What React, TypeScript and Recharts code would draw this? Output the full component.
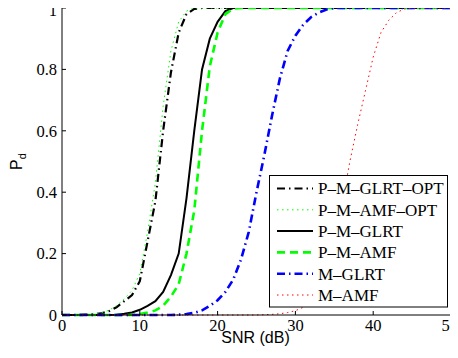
import React from "react";
import { LineChart, Line, XAxis, YAxis, Legend } from "recharts";

const snrDb = [0,1,2,3,4,5,6,7,8,9,10,11,12,13,14,15,16,17,18,19,20,21,22,23,24,25,26,27,28,29,30,31,32,33,34,35,36,37,38,39,40,41,42,43,44,45,46,47,48,49,50];

const pmGlrtOpt = [0,0,0,0.001,0.002,0.005,0.012,0.025,0.045,0.065,0.11,0.24,0.37,0.6,0.79,0.92,0.98,0.997,1,1,1,1,1,1,1,1,1,1,1,1,1,1,1,1,1,1,1,1,1,1,1,1,1,1,1,1,1,1,1,1,1];
const pmAmfOpt = [0,0,0,0.001,0.003,0.007,0.015,0.03,0.052,0.08,0.135,0.27,0.43,0.68,0.86,0.955,0.99,1,1,1,1,1,1,1,1,1,1,1,1,1,1,1,1,1,1,1,1,1,1,1,1,1,1,1,1,1,1,1,1,1,1];
const pmGlrt = [0,0,0,0,0,0,0,0.001,0.004,0.008,0.017,0.03,0.045,0.075,0.13,0.2,0.38,0.6,0.8,0.9,0.955,0.99,1,1,1,1,1,1,1,1,1,1,1,1,1,1,1,1,1,1,1,1,1,1,1,1,1,1,1,1,1];
const pmAmf = [0,0,0,0,0,0,0,0,0,0,0.003,0.008,0.015,0.03,0.06,0.1,0.2,0.34,0.6,0.81,0.92,0.98,0.998,1,1,1,1,1,1,1,1,1,1,1,1,1,1,1,1,1,1,1,1,1,1,1,1,1,1,1,1];
const mGlrt = [0,0,0,0,0,0,0,0,0,0,0,0,0,0,0,0.001,0.003,0.007,0.015,0.03,0.048,0.075,0.115,0.18,0.27,0.4,0.52,0.65,0.77,0.86,0.91,0.945,0.97,0.985,0.995,1,1,1,1,1,1,1,1,1,1,1,1,1,1,1,1];
const mAmf = [0,0,0,0,0,0,0,0,0,0,0,0,0,0,0,0,0,0,0,0,0,0,0,0,0,0,0.001,0.002,0.004,0.008,0.014,0.025,0.045,0.08,0.14,0.23,0.36,0.5,0.62,0.73,0.84,0.92,0.96,0.985,0.997,1,1,1,1,1,1];

const xTicks = [0, 10, 20, 30, 40, 50];
const yTicks = [0, 0.2, 0.4, 0.6, 0.8, 1];

const seriesNames = ["P–M–GLRT–OPT", "P–M–AMF–OPT", "P–M–GLRT", "P–M–AMF", "M–GLRT", "M–AMF"];
const seriesKeys = ["pmGlrtOpt", "pmAmfOpt", "pmGlrt", "pmAmf", "mGlrt", "mAmf"];
const seriesValues = [pmGlrtOpt, pmAmfOpt, pmGlrt, pmAmf, mGlrt, mAmf];
const seriesStyles = [
  { stroke: "#000000", width: 2.2, dash: "8 4 1.5 4" },
  { stroke: "#00ff00", width: 1, dash: "1.5 3.5" },
  { stroke: "#000000", width: 2, dash: undefined },
  { stroke: "#00ff00", width: 2.6, dash: "8 5" },
  { stroke: "#0000ff", width: 2.6, dash: "8 4 1.5 4" },
  { stroke: "#ff0000", width: 1, dash: "1.5 3.5" },
];

const data = snrDb.map((s, i) => {
  const row: Record<string, number> = { snr: s };
  seriesKeys.forEach((k, j) => {
    row[k] = seriesValues[j][i];
  });
  return row;
});

const serif = "'Liberation Serif', 'Times New Roman', serif";
const sans = "'Liberation Sans', Arial, sans-serif";
const tickStyle = { fill: "#000", fontSize: 16.5, fontFamily: serif };

const LegendBox = () => (
  <svg width={179} height={133} style={{ display: "block" }}>
    <rect x={0.5} y={0.5} width={178} height={131.5} fill="#fff" stroke="#000" strokeWidth={1} />
    {seriesNames.map((name, i) => {
      const cy = 13.5 + i * 21.3;
      const st = seriesStyles[i];
      return (
        <g key={name}>
          <line x1={8} x2={44} y1={cy} y2={cy} stroke={st.stroke} strokeWidth={st.width} strokeDasharray={st.dash} />
          <text x={49} y={cy + 5.8} fontFamily={serif} fontSize={17} fill="#000">
            {name}
          </text>
        </g>
      );
    })}
  </svg>
);

export default function App() {
  return (
    <div style={{ position: "relative", left: -8, top: -8, width: 458, height: 358 }}>
      <LineChart width={458} height={358} data={data} margin={{ top: 8, right: 7, bottom: 13, left: 12 }}>
        <XAxis
          dataKey="snr"
          type="number"
          domain={[0, 50]}
          ticks={xTicks}
          xAxisId="bottom"
          height={30}
          tickSize={-4}
          tickMargin={8}
          tick={tickStyle}
          stroke="#000"
          axisLine={{ stroke: "#000", strokeWidth: 1 }}
          tickLine={{ stroke: "#000" }}
          label={{
            content: (p: any) => {
              const vb = p.viewBox || { x: 62, y: 315, width: 389, height: 30 };
              return (
                <text x={vb.x + vb.width / 2 - 1} y={vb.y + 28} textAnchor="middle" fontFamily={sans} fontSize={16} fill="#000">
                  SNR (dB)
                </text>
              );
            },
          }}
        />
        <XAxis
          dataKey="snr"
          type="number"
          domain={[0, 50]}
          ticks={xTicks}
          xAxisId="top"
          orientation="top"
          height={0}
          tickSize={-4}
          tickFormatter={() => ""}
          stroke="#000"
          axisLine={{ stroke: "#000", strokeWidth: 1 }}
          tickLine={{ stroke: "#000" }}
        />
        <YAxis
          yAxisId="left"
          type="number"
          domain={[0, 1]}
          ticks={yTicks}
          width={50}
          tickSize={-4}
          tickMargin={9}
          tick={tickStyle}
          stroke="#000"
          axisLine={{ stroke: "#000", strokeWidth: 1 }}
          tickLine={{ stroke: "#000" }}
          label={{
            content: (p: any) => {
              const vb = p.viewBox || { x: 12, y: 8, width: 50, height: 307 };
              const cx = vb.x + 10;
              const cy = vb.y + vb.height / 2;
              return (
                <text x={cx} y={cy} transform={`rotate(-90, ${cx}, ${cy})`} textAnchor="middle" fontFamily={sans} fontSize={16} fill="#000">
                  P<tspan fontSize={11} dy={4}>d</tspan>
                </text>
              );
            },
          }}
        />
        <YAxis
          yAxisId="right"
          orientation="right"
          type="number"
          domain={[0, 1]}
          ticks={yTicks}
          width={0}
          tickSize={-4}
          tickFormatter={() => ""}
          stroke="#000"
          axisLine={{ stroke: "#000", strokeWidth: 1 }}
          tickLine={{ stroke: "#000" }}
        />
        {seriesKeys.map((k, i) => (
          <Line
            key={k}
            xAxisId="bottom"
            yAxisId="left"
            dataKey={k}
            name={seriesNames[i]}
            type="linear"
            stroke={seriesStyles[i].stroke}
            strokeWidth={seriesStyles[i].width}
            strokeDasharray={seriesStyles[i].dash}
            dot={false}
            activeDot={false}
            isAnimationActive={false}
          />
        ))}
        <Legend
          layout="vertical"
          align="center"
          verticalAlign="middle"
          content={() => <LegendBox />}
          wrapperStyle={{ position: "absolute", left: 269, top: 175, width: 179, height: 133 }}
        />
      </LineChart>
    </div>
  );
}
